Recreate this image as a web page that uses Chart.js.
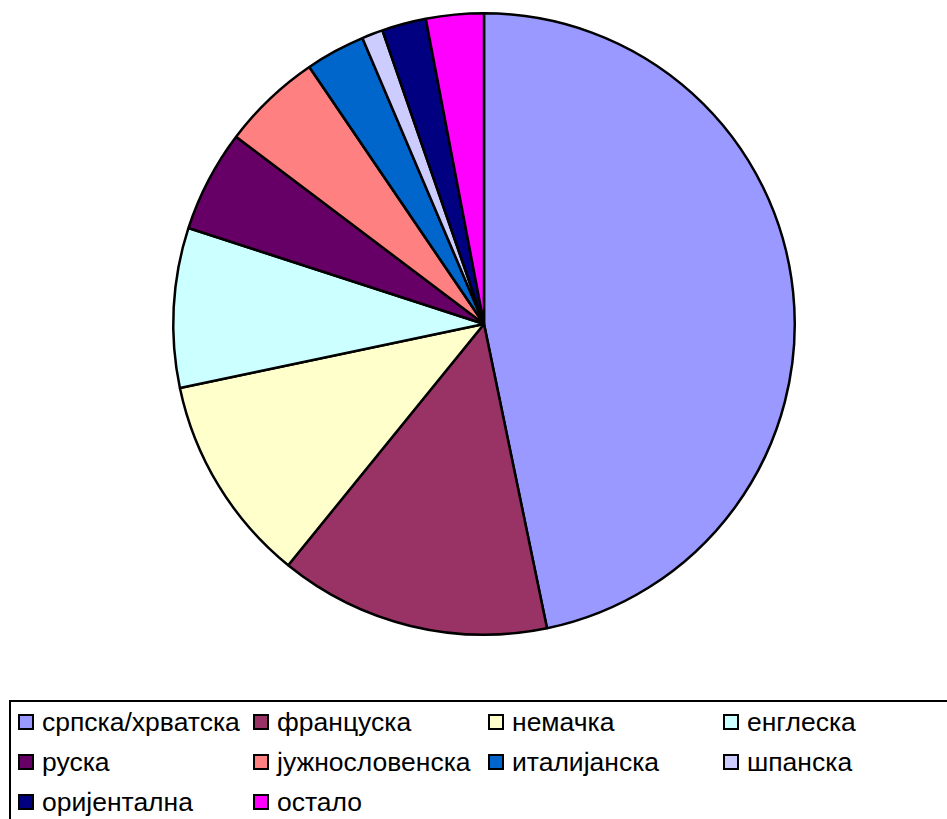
<!DOCTYPE html>
<html>
<head>
<meta charset="utf-8">
<script src="https://cdn.jsdelivr.net/npm/chart.js@4/dist/chart.umd.min.js"></script>
<style>
  html, body { margin: 0; padding: 0; background: #fff; overflow: hidden; }
  body { width: 947px; height: 819px; position: relative; font-family: "Liberation Sans", Arial, sans-serif; }
  #pie-wrap { position: absolute; left: 168px; top: 8px; width: 632px; height: 632px; }
  #legend {
    position: absolute; left: 9px; top: 700px; width: 1000px; height: 140px;
    border: 2px solid #000; box-sizing: border-box;
    display: grid; grid-template-columns: repeat(4, 235px); grid-auto-rows: 40px;
    padding: 0 0 0 7px;
  }
  .item { display: flex; align-items: center; font-size: 26.5px; color: #000; white-space: nowrap; }
  .swatch { width: 16px; height: 16px; border: 2px solid #000; box-sizing: border-box; margin-right: 8px; flex: none; }
</style>
</head>
<body>
<div id="pie-wrap"><canvas id="pie" width="632" height="632"></canvas></div>
<div id="legend"></div>
<script>
  const languages = ['српска/хрватска', 'француска', 'немачка', 'енглеска', 'руска',
                     'јужнословенска', 'италијанска', 'шпанска', 'оријентална', 'остало'];
  const shares = [46.75, 14.1, 10.85, 8.3, 5.3, 5.2, 3.1, 1.1, 2.3, 3.0];
  const sliceColors = ['#9999FF', '#993366', '#FFFFCC', '#CCFFFF', '#660066',
                       '#FF8080', '#0066CC', '#CCCCFF', '#000080', '#FF00FF'];

  const ctx = document.getElementById('pie').getContext('2d');
  const pieChart = new Chart(ctx, {
    type: 'pie',
    data: {
      labels: languages,
      datasets: [{
        data: shares,
        backgroundColor: sliceColors,
        borderColor: '#000',
        borderWidth: 2.5
      }]
    },
    options: {
      responsive: false,
      animation: false,
      layout: { padding: 4 },
      plugins: {
        legend: { display: false },
        tooltip: { enabled: false }
      }
    }
  });

  // legend with fixed columns, built from the chart data
  const legendBox = document.getElementById('legend');
  pieChart.data.labels.forEach((label, i) => {
    const item = document.createElement('div');
    item.className = 'item';
    const sw = document.createElement('span');
    sw.className = 'swatch';
    sw.style.background = pieChart.data.datasets[0].backgroundColor[i];
    const txt = document.createElement('span');
    txt.textContent = label;
    item.appendChild(sw);
    item.appendChild(txt);
    legendBox.appendChild(item);
  });
</script>
</body>
</html>
